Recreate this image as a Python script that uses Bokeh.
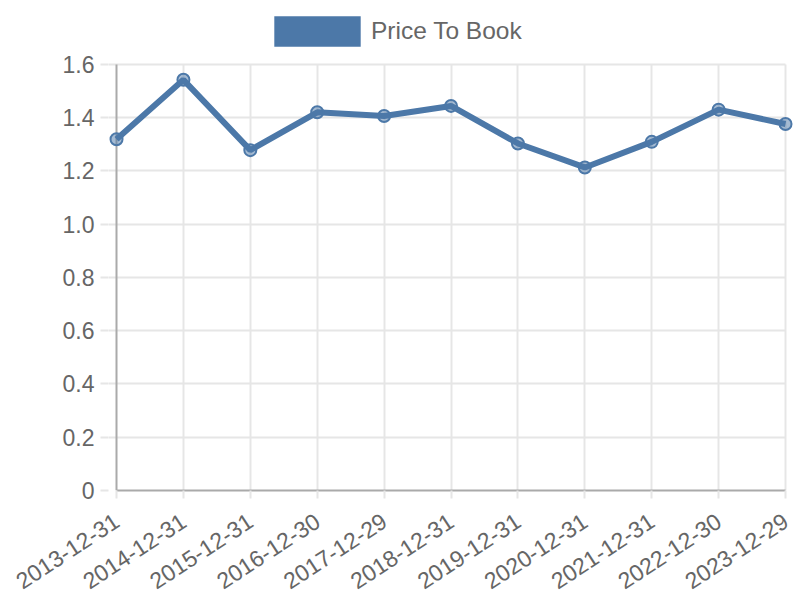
from bokeh.plotting import figure
from bokeh.models import (Range1d, FixedTicker, CustomJSTickFormatter, Legend, LegendItem, Grid)
from bokeh.embed import file_html
from bokeh.resources import INLINE

dates = ["2013-12-31", "2014-12-31", "2015-12-31", "2016-12-30", "2017-12-29",
         "2018-12-31", "2019-12-31", "2020-12-31", "2021-12-31", "2022-12-30", "2023-12-29"]
price_to_book = [1.319, 1.542, 1.278, 1.420, 1.406, 1.444, 1.303, 1.213, 1.309, 1.430, 1.376]
y_ticks = [0, 0.2, 0.4, 0.6, 0.8, 1.0, 1.2, 1.4, 1.6]
series_name = "Price To Book"

xs = list(range(len(dates)))
FONT = "Liberation Sans"
TXT = "#666666"
GRID = "#e6e6e6"
AXIS = "#aaaaaa"
BLUE = "#4c78a8"
FS = "23px"

p = figure(width=800, height=600, output_backend="svg", toolbar_location=None,
           x_range=Range1d(-0.12, len(dates) - 1 + 0.224), y_range=Range1d(0, 1.8398),
           min_border_left=108, min_border_right=0, min_border_top=0, min_border_bottom=109)
p.outline_line_color = None
p.background_fill_color = "white"
p.border_fill_color = "white"

# legend swatch renderer (zero-area bars, only used for the legend glyph)
sw = p.quad(left=xs, right=xs, top=price_to_book, bottom=price_to_book,
            fill_color=BLUE, line_color=None)

# line and points
p.line(xs, price_to_book, line_color=BLUE, line_width=6)
p.scatter(xs, price_to_book, size=12, fill_color=BLUE, fill_alpha=0.5,
          line_color=BLUE, line_width=2)

legend = Legend(items=[LegendItem(label=series_name, renderers=[sw])],
                location=(155, 440), orientation="horizontal",
                glyph_width=108, glyph_height=38, label_standoff=0,
                padding=0, margin=0, border_line_color=None, background_fill_alpha=0,
                label_text_font=FONT, label_text_font_size="24.5px", label_text_color=TXT)
p.add_layout(legend, "center")

# x axis
xa = p.xaxis[0]
xa.ticker = FixedTicker(ticks=xs)
xa.major_label_overrides = {i: d for i, d in enumerate(dates)}
xa.major_label_orientation = 0.58
xa.bounds = (0, len(dates) - 1)
xa.axis_line_color = AXIS
xa.axis_line_width = 2
xa.major_tick_out = 8
xa.major_tick_in = 0
xa.major_tick_line_color = GRID
xa.major_tick_line_width = 2
xa.minor_tick_line_color = None
xa.major_label_text_font = FONT
xa.major_label_text_font_size = FS
xa.major_label_text_color = TXT
xa.major_label_standoff = 20

# y axis
ya = p.yaxis[0]
ya.ticker = FixedTicker(ticks=y_ticks)
ya.formatter = CustomJSTickFormatter(code="return tick == 0 ? '0' : tick.toFixed(1);")
ya.axis_line_color = None
ya.major_tick_out = 8
ya.major_tick_in = 0
ya.major_tick_line_color = GRID
ya.major_tick_line_width = 2
ya.minor_tick_line_color = None
ya.major_label_text_font = FONT
ya.major_label_text_font_size = FS
ya.major_label_text_color = TXT
ya.major_label_standoff = 6

p.xgrid.ticker = FixedTicker(ticks=xs[1:])
p.xgrid.grid_line_color = GRID
p.xgrid.grid_line_width = 2
p.xgrid.cross_bounds = (0, 1.6)
p.ygrid.ticker = FixedTicker(ticks=y_ticks[1:])
p.ygrid.grid_line_color = GRID
p.ygrid.grid_line_width = 2
p.ygrid.cross_bounds = (-0.12, len(dates) - 1)

# y axis line drawn at x = 0
p.add_layout(Grid(dimension=0, ticker=FixedTicker(ticks=[0]), grid_line_color=AXIS,
                  grid_line_width=2, cross_bounds=(0, 1.6)))

open("out.html", "w").write(file_html(p, INLINE))
